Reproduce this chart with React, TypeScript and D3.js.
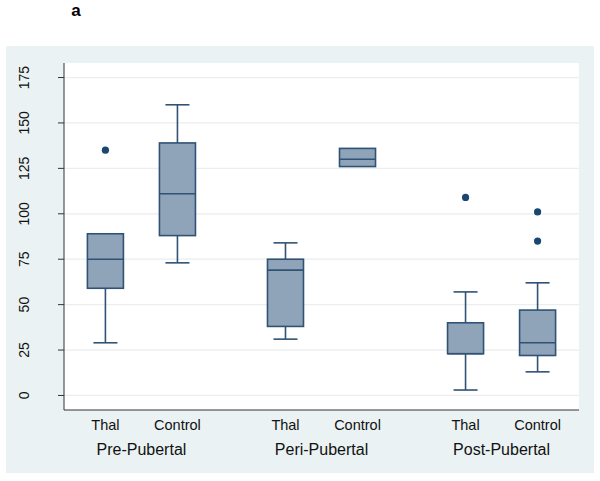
import React from "react";
import * as d3 from "d3";

const groups = ["Pre-Pubertal", "Peri-Pubertal", "Post-Pubertal"];
const subgroups = ["Thal", "Control"];
// order: Pre-Thal, Pre-Control, Peri-Thal, Peri-Control, Post-Thal, Post-Control
const lowerWhisker = [29, 73, 31, 126, 3, 13];
const q1 = [59, 88, 38, 126, 23, 22];
const median = [75, 111, 69, 130, 23, 29];
const q3 = [89, 139, 75, 136, 40, 47];
const upperWhisker = [89, 160, 84, 136, 57, 62];
const outliers = [[135], [], [], [], [109], [101, 85]];
const yTicks = [0, 25, 50, 75, 100, 125, 150, 175];

const W = 600;
const H = 481;
const plot = { left: 64, right: 579, top: 63, bottom: 410 };

const FILL = "#8fa3b9";
const STROKE = "#2f5275";
const DOT = "#1a476f";
const FONT = "'Liberation Sans', Arial, sans-serif";

export default function App() {
  const y = d3.scaleLinear().domain([-8, 183]).range([plot.bottom, plot.top]);
  const gx = d3.scalePoint<string>().domain(groups).range([plot.left, plot.right]).padding(0.43);
  const step = gx.step();
  const sx = d3.scalePoint<string>().domain(subgroups).range([-0.2 * step, 0.2 * step]);
  const capHalf = step / 15;
  const bw = step * 0.2;

  const boxes = groups.flatMap((g, gi) =>
    subgroups.map((s, si) => {
      const i = gi * subgroups.length + si;
      return { g, s, i, cx: (gx(g) as number) + (sx(s) as number) };
    })
  );

  return (
    <svg width={W} height={H} style={{ display: "block", position: "absolute", left: 0, top: 0 }}>
      <rect x={0} y={0} width={W} height={H} fill="#ffffff" />
      <text x={76} y={16} fontFamily={FONT} fontWeight="bold" fontSize={17} textAnchor="middle" fill="#000">
        a
      </text>
      <rect x={6} y={46} width={588} height={427} fill="#eaf2f3" />
      <rect x={plot.left} y={plot.top} width={plot.right - plot.left} height={plot.bottom - plot.top} fill="#ffffff" />
      {yTicks.map((t) => (
        <g key={t}>
          <line x1={plot.left} x2={plot.right} y1={y(t)} y2={y(t)} stroke="#eaeeee" strokeWidth={1.2} />
          <line x1={plot.left - 6} x2={plot.left} y1={y(t)} y2={y(t)} stroke="#333" strokeWidth={1} />
          <text
            transform={`translate(${29},${y(t)}) rotate(-90)`}
            textAnchor="middle"
            fontFamily={FONT}
            fontSize={14}
            fill="#111"
          >
            {t}
          </text>
        </g>
      ))}
      <line x1={plot.left} x2={plot.left} y1={plot.top} y2={plot.bottom} stroke="#333" strokeWidth={1} />
      <line x1={plot.left} x2={plot.right} y1={plot.bottom} y2={plot.bottom} stroke="#333" strokeWidth={1} />
      {boxes.map(({ i, cx }) => (
        <g key={i}>
          {upperWhisker[i] > q3[i] && (
            <>
              <line x1={cx} x2={cx} y1={y(q3[i])} y2={y(upperWhisker[i])} stroke={STROKE} strokeWidth={1.6} />
              <line x1={cx - capHalf} x2={cx + capHalf} y1={y(upperWhisker[i])} y2={y(upperWhisker[i])} stroke={STROKE} strokeWidth={1.6} />
            </>
          )}
          {lowerWhisker[i] < q1[i] && (
            <>
              <line x1={cx} x2={cx} y1={y(q1[i])} y2={y(lowerWhisker[i])} stroke={STROKE} strokeWidth={1.6} />
              <line x1={cx - capHalf} x2={cx + capHalf} y1={y(lowerWhisker[i])} y2={y(lowerWhisker[i])} stroke={STROKE} strokeWidth={1.6} />
            </>
          )}
          <rect
            x={cx - bw / 2}
            y={y(q3[i])}
            width={bw}
            height={y(q1[i]) - y(q3[i])}
            fill={FILL}
            stroke={STROKE}
            strokeWidth={1.6}
          />
          <line x1={cx - bw / 2} x2={cx + bw / 2} y1={y(median[i])} y2={y(median[i])} stroke={STROKE} strokeWidth={1.6} />
          {outliers[i].map((o, k) => (
            <circle key={k} cx={cx} cy={y(o)} r={3.6} fill={DOT} />
          ))}
          <text x={cx} y={430} textAnchor="middle" fontFamily={FONT} fontSize={14.5} fill="#111">
            {subgroups[i % subgroups.length]}
          </text>
        </g>
      ))}
      {groups.map((g) => (
        <text key={g} x={gx(g)} y={455} textAnchor="middle" fontFamily={FONT} fontSize={16} fill="#111">
          {g}
        </text>
      ))}
    </svg>
  );
}
